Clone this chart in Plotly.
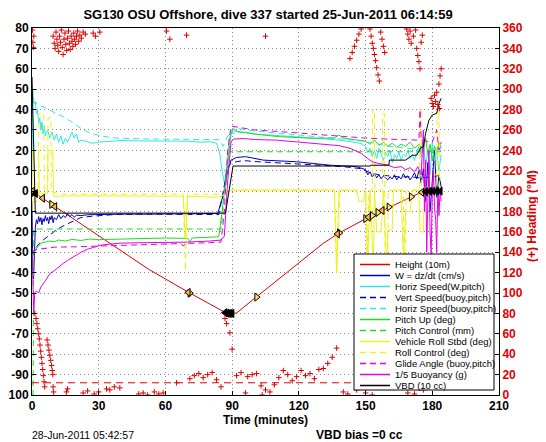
import plotly.graph_objects as go

# ---------------- data ----------------
height_t = [0, 5, 10, 20, 30, 40, 53, 62, 71, 80, 87, 89, 91, 92, 100, 108, 116, 124, 131, 138, 145, 152, 158, 164, 170, 175, 178, 181, 184]
height_v = [0, -3.6, -7.4, -14.6, -21.9, -29.2, -38.7, -44.5, -50, -55.4, -59.6, -60, -60, -59.8, -52.7, -45.6, -38.5, -31.6, -25.6, -20.6, -16.4, -12.4, -9.3, -6.2, -3, -0.6, -0.2, 0, 0]

gc_t = [0.2, 0.9, 1.6, 4.8, 8.8, 10.3, 70.3, 71.0, 86.8, 87.6, 88.4, 89.2, 90.0, 101.0, 137.4, 138.2, 150.0, 151.3, 153.0, 155.5, 157.5, 160.5, 170.5, 175.3, 177.0, 178.8, 180.4, 182.0, 183.6]
gc_h = [-0.1, -0.6, -1.2, -3.5, -6.5, -7.6, -49.7, -50.1, -59.6, -59.9, -60, -60, -60, -52, -21, -20.5, -13.5, -12.8, -12, -10.5, -9.5, -7.8, -2.8, -0.6, -0.3, -0.1, 0, 0, 0]
gc_kind = ["R", "P", "V", "R", "P", "R", "R", "P", "V", "V", "V", "V", "V", "P", "R", "P", "P", "R", "P", "P", "R", "P", "P", "R", "V", "V", "V", "V", "V"]

w_t = [0, 0.3, 0.7, 1, 1.5, 2, 2.5, 3, 3.5, 4, 4.5, 5, 5.5, 6, 6.5, 7, 7.5, 8, 8.5, 9, 9.5, 10, 11, 12, 13, 14, 15, 16, 17, 18, 19, 20, 22, 25, 30, 40, 50, 60, 70, 80, 83.5, 86, 88, 89.5, 92, 96, 104, 119, 134, 146, 150,
       151, 152, 153, 154, 155, 156, 157, 158, 159, 160, 161, 162, 163, 164, 165, 166, 167, 168, 169, 170, 171, 172, 173, 174, 175, 176, 177, 178, 179, 180, 181, 182, 183, 184]
w_v = [-5, -38, -43, -30, -18, -14, -16, -12.5, -15, -13, -16.5, -13.5, -15, -12, -14.5, -13, -16, -12.5, -14, -12, -15.5, -13, -14, -11.5, -13.5, -12, -13, -11, -12.5, -11.5, -12.8, -11.8, -12, -11.6, -11.4, -11.3, -11.3, -11.2, -11.4, -11.2, -11, -2, 10, 15.2, 16.5, 16.9, 15.2, 14.4, 12.7, 12, 10.5,
       8, 9.5, 7, 8.5, 6.5, 8, 6, 7.5, 6.5, 5.5, 7, 6, 8, 5.5, 7, 6, 8.5, 6.5, 7.5, 5.5, 7, 9, 6, 10, 4, 11, -5, 14, -10, 5, 20, -3, 8, 2]

hs_t = [0, 0.3, 0.6, 1, 1.5, 2, 2.5, 3, 3.5, 4, 4.5, 5, 5.5, 6, 7, 8, 9, 10, 11, 12, 13, 14, 15, 16, 17, 18, 19, 20, 21, 22, 24, 27, 30, 35, 40, 50, 60, 70, 76, 80, 83, 84.5, 85.5, 86.5, 87.5, 88.5, 89.5, 90.5, 91.5, 93, 100, 110, 120, 130, 140, 148,
        150, 151, 152, 153, 154, 155, 156, 157, 158, 159, 160, 161, 162, 163, 164, 165, 166, 167, 168, 169, 170, 171, 172, 173, 174, 175, 176, 177, 178, 179, 180, 181, 182, 183, 184]
hs_v = [10, 50, 46, 43, 44, 38, 40, 33, 36, 30, 34, 28, 32, 27, 30, 26, 29, 25, 28, 24, 27, 23, 26, 24, 27, 29, 26, 28, 24, 25, 24.5, 23.5, 24, 24.5, 24.8, 24.6, 24.5, 24.5, 24, 24.2, 23.5, 18, 10, 4, 12, 24, 30, 28, 29.5, 29, 28, 27.3, 26.7, 25.8, 24.8, 23.4,
        22, 19, 21, 17, 20, 16, 21, 18, 15, 19, 17, 20, 14, 18, 16, 19, 15, 18, 17, 20, 16, 18, 15, 19, 22, 17, 25, 12, 20, 8, 24, 15, 20, 10, 18]

vs_t = [0, 1, 3, 5, 8, 11, 15, 19, 22, 27, 32, 37, 50, 70, 80, 84, 86, 88, 90, 95, 100, 110, 120, 130, 140, 148, 152, 156, 160, 165, 170, 175, 180, 184]
vs_v = [-32, -29, -26, -24, -21.5, -19, -16.5, -14.5, -13, -12.3, -11.8, -11.5, -11.3, -11.5, -11.7, -11.5, 0, 12, 14, 15, 14.5, 14, 13.3, 12.7, 12, 11, 9, 8, 7.5, 7, 7, 6.5, 7, 8]

hb_t = [0, 2, 5, 7.6, 11, 15, 19, 23, 27, 31, 38, 50, 70, 84, 86, 88, 90.5, 100, 110, 120, 130, 140, 150, 160, 170, 178, 184]
hb_v = [44, 43, 41.5, 40, 38, 36, 33, 30, 28.3, 27, 26, 25.6, 25.4, 25.2, 22, 27, 31, 29.5, 28.5, 27.5, 26.5, 25.8, 24.5, 22, 21, 20, 21]

pu_t = [0, 1, 2, 3, 4, 6, 8, 10, 12, 15, 18, 22, 26, 30, 40, 50, 60, 70, 71, 72, 80, 84, 85.5, 87.5, 89.5, 90.5, 93, 96, 100, 111, 126, 136, 138, 140, 148,
        150, 152, 154, 156, 158, 160, 162, 164, 166, 168, 170, 172, 174, 176, 177, 178, 179, 180, 181, 182, 183, 184]
pu_v = [-32, -30, -28, -27, -25.5, -25, -24.5, -24.8, -24, -24.5, -23.7, -24.2, -23.5, -23.8, -23.5, -23.2, -23, -23.2, -25, -23, -22.7, -22.4, -10, 10, 28, 30.3, 29, 28.9, 28, 26.7, 25.9, 26, 27.5, 26, 25,
        24.5, 23, 25, 22.5, 24, 22, 23.5, 21.5, 23, 22, 24, 21, 23, 20, 26, 18, 23, 15, 22, 19, 24, 21]

pc_t = [0, 0.5, 0.8, 85, 88.5, 184]
pc_v = [-100, -100, -18.6, -18.6, 19.3, 19.3]

roll_t = [0, 0.2, 3, 3.3, 7, 7.2, 9.4, 9.6, 20, 40, 60, 68, 69, 70, 84, 86, 88, 90, 136, 137, 138, 146, 147, 149, 150, 151, 152, 153.5, 154, 155, 157, 158, 159.5, 160, 162, 162.5, 166, 167, 168, 170, 171, 174, 174.5, 176, 176.5, 180, 181, 183, 184]
roll_v = [-10, 20, 20, -1, -1, 20, 20, -2.5, -2.3, -2.5, -2.4, -2.5, -22, -2.5, -3, -2, 0, 0.5, 0.5, -40, 0.5, 0.3, -5, -5, 0.5, -35, 0.5, -38, 0.5, -20, -20, 0.5, -38, -19, -19, 0.5, 0.5, -35, -10, -10, 0.5, 0.5, -20, -20, 2, 2, 8, 8, 5]

rc_t = [0, 2.8, 3, 5.3, 5.5, 7, 7.2, 8.5, 8.7, 12, 68, 69, 70, 86, 89, 136, 137, 138.5, 150, 150.5, 151.5, 153, 153.2, 154, 154.2, 157.5, 157.7, 158.5, 158.7, 160, 160.2, 167, 167.2, 168, 168.2, 174.3, 174.5, 175, 175.2, 182, 182.2, 183, 183.2, 184]
rc_v = [-5, -5, 38, 38, 0, 0, 36, 36, 0, -1.5, -1.5, -39, -1.5, -1.5, 0.5, 0.5, -40, 0.5, 0.5, -38, 0.5, 0.5, 40, 40, 0.5, 0.5, 38, 38, -38, -38, 0.5, 0.5, -36, -36, 0.5, 0.5, 40, 40, 0.5, 0.5, 40, 40, 0.5, 0.5]

ga_t = [0, 1, 3, 6, 10, 20, 30, 40, 50, 60, 67, 68, 69, 80, 85, 86.5, 88, 89.5, 100, 110, 120, 130, 140, 150, 160, 170, 174, 174.5, 175, 180, 182, 183, 184]
ga_v = [-30, -29, -28.5, -28, -27.5, -27.3, -27, -26.5, -26.2, -25.9, -25.7, -27, -25.7, -25.3, -25, -10, 20, 31.9, 30, 29.3, 28.5, 27.5, 26.8, 26, 25.5, 25, 25, 40, 25, 24, 30, 20, 24]

bu_t = [0, 0.4, 0.8, 1.2, 2, 3, 4, 6, 8, 10, 12, 14, 16, 19, 22, 25, 28, 31, 35, 40, 50, 60, 70, 80, 85, 86.5, 88, 89.5, 90.5, 95, 100, 110, 120, 130, 138, 143, 148, 151, 153, 156, 160, 163, 166, 168, 170, 172, 173.5, 175,
        176, 176.5, 177, 177.5, 178, 178.5, 179, 179.5, 180, 180.5, 181, 181.5, 182, 182.5, 183, 183.5, 184]
bu_v = [-28, -45, -60, -50, -49, -50, -47, -44, -40.5, -39, -37, -35.5, -34, -32, -30, -28.5, -27.5, -26.5, -26, -25.5, -25.3, -25.2, -25, -24.5, -24, -22, 5, 24, 25.5, 25.8, 25.3, 25, 24, 23, 22.3, 21, 18.5, 16, 14.4, 13.5, 12.8, 11.5, 12, 10.5, 11.5, 9.5, 12, 8,
        30, -10, 15, -30, 5, 20, -20, -31, 0, 10, -8, -14, -30, 2, -12, 0, -5]

vbd_t = [0, 0.5, 1, 1.5, 87, 90.4, 152, 152.5, 160.5, 160.7, 168, 171, 173, 175, 176, 177, 178.5, 180, 182, 183, 184]
vbd_v = [56, 30, 0, -10.8, -10.8, 12.3, 12.3, 12.7, 12.7, 15.2, 15.2, 17.6, 17.6, 21.6, 21.6, 28.4, 34.8, 37.3, 38.2, 43, 45.5]

head_t = [0.2, 0.4, 0.6, 0.8,
          9.5, 10, 10.4, 10.8, 11.2, 11.6, 12, 12.4, 12.8, 13.2, 13.6, 14, 14.4, 14.8, 15.2, 15.6, 16, 16.4, 16.8, 17.2, 17.6, 18, 18.4, 18.8, 19.2, 19.6, 20, 20.5, 21, 21.5, 22.2, 23, 24, 27.5, 28.5, 30.5,
          60.5, 62, 69.5, 105,
          143, 144, 145, 146, 147, 148,
          152, 152.5, 153, 153.5, 154, 154.5, 155, 155.6, 156.2, 156.8, 157.4, 158, 158.6,
          168.5, 169, 169.5, 170, 170.5, 171.5, 172.5, 173, 173.5, 174, 174.5, 175, 175.5,
          179.5, 180, 180.5, 181, 181.5, 182, 182.5, 183, 183.5, 184, 183.2,
          1.3, 1.8, 2.2, 2.6, 3, 3.3, 3.6, 3.9, 4.2, 4.5, 4.8, 5.1, 5.4, 5.7,
          6.8, 7.2, 7.6, 8, 8.4, 8.8, 9.1, 9.4, 9.5, 9.7,
          15.5, 16, 23, 25, 28, 30, 33.5, 35, 37, 39.5, 48, 50, 52, 55, 57, 59, 65, 71, 73, 75, 77, 79, 81, 83, 85,
          86.8, 87.5, 89, 90, 92, 94, 96, 97, 99, 101, 103, 103.5, 105, 107, 109, 111, 113, 115, 117, 119, 121, 123, 125, 127, 129,
          131, 133, 135, 137, 140, 142, 146, 150, 153, 158, 162, 166, 169, 172, 176, 178]
head_v = [358, 346, 341, 352,
          352, 345, 340, 356, 349, 343, 337, 352, 346, 358, 341, 334, 349, 355, 344, 338, 350, 357, 345, 339, 352, 347, 342, 355, 349, 344, 352, 357, 347, 353, 350, 356, 354, 355, 352, 356,
          357, 349, 353, 352,
          330, 336, 342, 348, 354, 359,
          359, 352, 345, 340, 334, 328, 321, 314, 308, 356, 349, 342, 336,
          359, 354, 349, 357, 345, 352, 358, 340, 333, 327, 320, 346, 353,
          291, 286, 283, 294, 288, 297, 285, 305, 313, 320, 281,
          80, 75, 70, 65, 60, 55, 49, 43, 37, 31, 25, 19, 13, 8,
          54, 49, 44, 39, 34, 29, 24, 20, 8, 3,
          3, 6, 2, 4, 1, 3, 6, 5, 8, 7, 1, 2, 0, 3, 1, 2, 12, 16, 19, 21, 17, 20, 22, 15, 8,
          75, 70, 61, 45, 19, 22, 2, 18, 20, 21, 9, 0, 5, 3, 10, 17, 24, 20, 14, 18, 24, 19, 21, 16, 25,
          26, 31, 37, 46, 3, 1, 5, 2, 0, 12, 8, 15, 2, 1, 5, 10]

head_goal_t = [0, 190]
head_goal_v = [12, 12]

x_ticks = [0, 30, 60, 90, 120, 150, 180, 210]
y_ticks = list(range(-100, 81, 10))
y_ticktext = [str(v) for v in y_ticks]          # plain hyphen minus, as in the reference
y2_ticks = list(range(0, 361, 20))

# ---------------- styling ----------------
RED = "#dd0000"
BLUE = "#0000b4"
CYAN = "#2ee6ee"
GREEN = "#1fdc1f"
YELLOW = "#f0f020"
MAGENTA = "#e600e6"
DASH = "6px,4px"
FONT = "Liberation Sans, Arial, Helvetica, sans-serif"

OFF = 8  # page body margin offset of the browser
W, H = 538, 434
ML, MR, MT, MB = 24, 47, 20, 47
PW, PH = W - ML - MR, H - MT - MB

fig = go.Figure()

def add_line(t, v, name, color, dash=None):
    fig.add_trace(go.Scatter(x=t, y=v, mode="lines", name=name,
                             line=dict(color=color, width=1, dash=dash),
                             showlegend=False, hoverinfo="skip"))

add_line(height_t, height_v, "Height (10m)", RED)
add_line(w_t, w_v, "W = dz/dt (cm/s)", BLUE)
add_line(hs_t, hs_v, "Horiz Speed(W,pitch)", CYAN)
add_line(vs_t, vs_v, "Vert Speed(buoy,pitch)", BLUE, DASH)
add_line(hb_t, hb_v, "Horiz Speed(buoy,pitch)", CYAN, DASH)
add_line(pu_t, pu_v, "Pitch Up (deg)", GREEN)
add_line(pc_t, pc_v, "Pitch Control (mm)", GREEN, DASH)
add_line(roll_t, roll_v, "Vehicle Roll Stbd (deg)", YELLOW)
add_line(rc_t, rc_v, "Roll Control (deg)", YELLOW, DASH)
add_line(ga_t, ga_v, "Glide Angle (buoy,pitch)", MAGENTA, DASH)
add_line(bu_t, bu_v, "1/5 Buoyancy (g)", MAGENTA)
add_line(vbd_t, vbd_v, "VBD (10 cc)", "black")

# GC markers on the height trace
kind_style = {"P": ("triangle-right", "#ffe84a"), "R": ("triangle-left", "#ffb050"), "V": ("triangle-left", "black")}
for k, (sym, fill) in kind_style.items():
    xs = [t for t, kk in zip(gc_t, gc_kind) if kk == k]
    ys = [h for h, kk in zip(gc_h, gc_kind) if kk == k]
    fig.add_trace(go.Scatter(x=xs, y=ys, mode="markers", showlegend=False, hoverinfo="skip",
                             marker=dict(symbol=sym, size=7, color=fill, line=dict(color="black", width=1))))

# heading on right axis
fig.add_trace(go.Scatter(x=head_goal_t, y=head_goal_v, yaxis="y2", mode="lines", showlegend=False,
                         hoverinfo="skip", line=dict(color=RED, width=1, dash="7px,5px")))
fig.add_trace(go.Scatter(x=head_t, y=head_v, yaxis="y2", mode="markers", showlegend=False, hoverinfo="skip",
                         marker=dict(symbol="cross-thin", size=4, color=RED, line=dict(color=RED, width=1))))

# ---------------- custom compact legend ----------------
legend_items = [("Height (10m)", RED, None), ("W = dz/dt (cm/s)", BLUE, None),
                ("Horiz Speed(W,pitch)", CYAN, None), ("Vert Speed(buoy,pitch)", BLUE, DASH),
                ("Horiz Speed(buoy,pitch)", CYAN, DASH), ("Pitch Up (deg)", GREEN, None),
                ("Pitch Control (mm)", GREEN, DASH), ("Vehicle Roll Stbd (deg)", YELLOW, None),
                ("Roll Control (deg)", YELLOW, DASH), ("Glide Angle (buoy,pitch)", MAGENTA, DASH),
                ("1/5 Buoyancy (g)", MAGENTA, None), ("VBD (10 cc)", "black", None)]

# helpers: convert screenshot pixel positions to paper coordinates
def px(xp):
    return (xp - OFF - ML) / PW

def py(yp):
    return (H - MB - (yp - OFF)) / PH

shapes = [dict(type="rect", xref="paper", yref="paper", x0=px(354), x1=px(494), y0=py(390), y1=py(254),
               line=dict(color="black", width=1), fillcolor="white", layer="above")]
annotations = []
for i, (name, color, dash) in enumerate(legend_items):
    yy = 264.5 + 11 * i
    shapes.append(dict(type="line", xref="paper", yref="paper", x0=px(360), x1=px(390), y0=py(yy), y1=py(yy),
                       line=dict(color=color, width=1.5, dash=dash), layer="above"))
    annotations.append(dict(text=name, xref="paper", yref="paper", x=px(393), y=py(yy), xanchor="left",
                            yanchor="middle", showarrow=False, font=dict(family=FONT, size=9.5, color="black")))

annotations.append(dict(text="28-Jun-2011 05:42:57", xref="paper", yref="paper", x=px(30), y=py(435),
                        xanchor="left", yanchor="middle", showarrow=False,
                        font=dict(family=FONT, size=10.5, color="black")))
annotations.append(dict(text="VBD bias =0 cc", xref="paper", yref="paper", x=px(359), y=py(435),
                        xanchor="center", yanchor="middle", showarrow=False,
                        font=dict(family=FONT, size=12, color="black", weight="bold")))
annotations.append(dict(text="(+) Heading (°M)", xref="paper", yref="paper", x=px(532), y=py(216),
                        xanchor="center", yanchor="middle", textangle=-90, showarrow=False,
                        font=dict(family=FONT, size=12, color=RED, weight="bold")))

tickfont = dict(family=FONT, size=12, color="black", weight="bold")
fig.update_layout(
    width=W, height=H, margin=dict(l=ML, r=MR, t=MT, b=MB, autoexpand=False),
    paper_bgcolor="white", plot_bgcolor="white",
    title=dict(text="SG130 OSU Offshore, dive 337 started 25-Jun-2011 06:14:59", x=(268 - OFF) / W,
               xanchor="center", y=1 - (14.5 - OFF) / H, yanchor="middle",
               font=dict(family=FONT, size=13, color="black", weight="bold")),
    xaxis=dict(range=[0, 210], tickvals=x_ticks, showgrid=True, gridcolor="#888888",
               griddash="1px,3px", gridwidth=1, zeroline=False, showline=True, linecolor="black", linewidth=1,
               mirror=True, ticks="inside", ticklen=4, tickcolor="black", tickfont=tickfont,
               title=dict(text="Time (minutes)", font=tickfont, standoff=2), automargin=False),
    yaxis=dict(range=[-100, 80], tickvals=y_ticks, ticktext=y_ticktext, showgrid=True, gridcolor="#888888",
               griddash="1px,3px", gridwidth=1, zeroline=False, showline=True, linecolor="black", linewidth=1,
               mirror=True, ticks="inside", ticklen=4, tickcolor="black", tickfont=tickfont, automargin=False),
    yaxis2=dict(range=[0, 360], tickvals=y2_ticks, overlaying="y", side="right", showgrid=False, zeroline=False,
                showline=True, linecolor="black", linewidth=1, ticks="inside", ticklen=4, tickcolor="black",
                tickfont=dict(family=FONT, size=12, color=RED, weight="bold"), automargin=False),
    shapes=shapes, annotations=annotations, showlegend=False,
)

fig.write_html("out.html")
